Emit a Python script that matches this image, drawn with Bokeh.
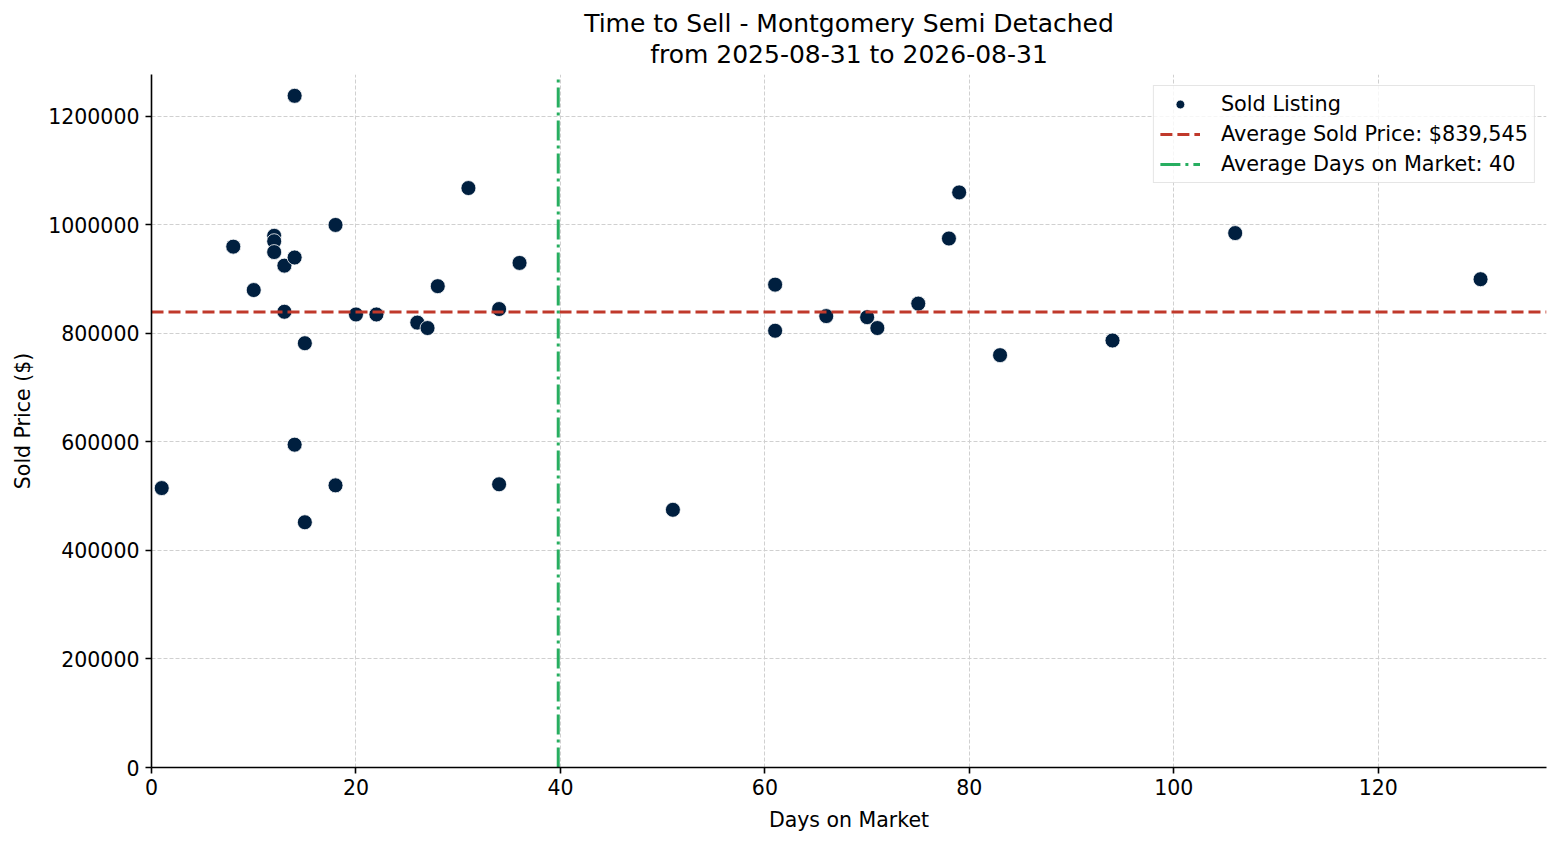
from bokeh.plotting import figure
from bokeh.models import Range1d, FixedTicker, BasicTickFormatter, Title
from bokeh.embed import file_html
from bokeh.resources import INLINE

days = [1, 8, 10, 12, 12, 12, 13, 13, 14, 14, 14, 15, 15, 18, 18, 20, 22, 26, 27, 28,
        31, 34, 34, 36, 51, 61, 61, 66, 70, 71, 75, 78, 79, 83, 94, 106, 130]
prices = [515000, 960000, 880000, 980000, 970000, 950000, 925000, 840000, 1238000, 940000,
          595000, 782000, 452000, 1000000, 520000, 835000, 835000, 820000, 810000, 887165,
          1068000, 845000, 522000, 930000, 475000, 890000, 805000, 832000, 830000, 810000,
          855000, 975000, 1060000, 760000, 787000, 985000, 900000]
x_ticks = [0, 20, 40, 60, 80, 100, 120]
y_ticks = [0, 200000, 400000, 600000, 800000, 1000000, 1200000]

title_line1 = "Time to Sell - Montgomery Semi Detached"
title_line2 = "from 2025-08-31 to 2026-08-31"

avg_price = sum(prices) / len(prices)
avg_days = sum(days) / len(days)
x_max = max(days) + 0.05 * (max(days) - min(days))
y_max = max(prices) + 0.05 * (max(prices) - min(prices))

FONT = "DejaVu Sans"
NAVY = "#001f3f"
RED = "#c0392b"
GREEN = "#27ae60"

p = figure(width=1552, height=837, output_backend="svg", toolbar_location=None,
           x_range=Range1d(0, x_max), y_range=Range1d(0, y_max), title=None,
           min_border_left=151, min_border_right=6, min_border_top=74, min_border_bottom=70)
p.outline_line_color = None
p.background_fill_color = "white"
p.border_fill_color = "white"

p.add_layout(Title(text=title_line2, align="center", text_font_size="25px",
                   text_font_style="normal", text_font=FONT, text_color="black", standoff=11), "above")
p.add_layout(Title(text=title_line1, align="center", text_font_size="25px",
                   text_font_style="normal", text_font=FONT, text_color="black", standoff=-11), "above")

p.scatter(days, prices, size=15, fill_color=NAVY, line_color="white", line_width=0.8,
          legend_label="Sold Listing")
p.line([0, x_max], [avg_price, avg_price], line_color=RED, line_width=3, line_dash="12 5",
       legend_label=f"Average Sold Price: ${avg_price:,.0f}")
p.line([avg_days, avg_days], [0, y_max], line_color=GREEN, line_width=3, line_dash="20 5 3 5",
       legend_label=f"Average Days on Market: {avg_days:.0f}")

for ax in (p.xaxis[0], p.yaxis[0]):
    ax.axis_line_color = "black"
    ax.axis_line_width = 1.6
    ax.major_tick_line_color = "black"
    ax.major_tick_line_width = 1.6
    ax.major_tick_out = 6
    ax.major_tick_in = 0
    ax.minor_tick_line_color = None
    ax.major_label_text_font = FONT
    ax.major_label_text_font_size = "20.5px"
    ax.major_label_text_color = "black"
    ax.axis_label_text_font = FONT
    ax.axis_label_text_font_size = "20.5px"
    ax.axis_label_text_font_style = "normal"
    ax.axis_label_text_color = "black"

p.xaxis.ticker = FixedTicker(ticks=x_ticks)
p.yaxis.ticker = FixedTicker(ticks=y_ticks)
p.yaxis.formatter = BasicTickFormatter(use_scientific=False)
p.xaxis.axis_label = "Days on Market"
p.yaxis.axis_label = "Sold Price ($)"
p.xaxis.major_label_standoff = 5
p.yaxis.major_label_standoff = 6
p.xaxis.axis_label_standoff = 10
p.yaxis.axis_label_standoff = 10

for g in (p.xgrid[0], p.ygrid[0]):
    g.grid_line_color = "#d0d0d0"
    g.grid_line_width = 1
    g.grid_line_dash = "4 2"

lg = p.legend[0]
lg.location = "top_right"
lg.margin = 11
lg.padding = 6
lg.spacing = 6
lg.glyph_width = 40
lg.glyph_height = 22
lg.label_height = 22
lg.label_standoff = 21
lg.label_text_font = FONT
lg.label_text_font_size = "20.8px"
lg.label_text_color = "black"
lg.border_line_color = "#cccccc"
lg.border_line_width = 1.5
lg.background_fill_color = "white"
lg.background_fill_alpha = 0.8

open("out.html", "w").write(file_html(p, INLINE))
